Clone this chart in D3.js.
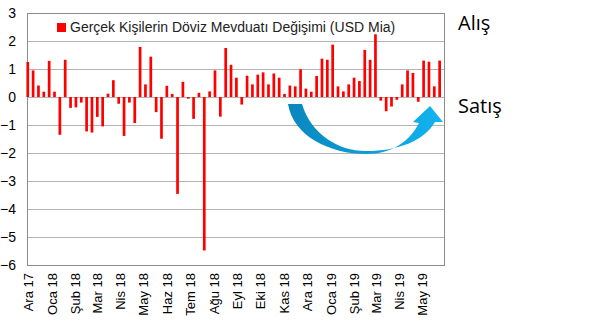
<!DOCTYPE html>
<html><head><meta charset="utf-8">
<script src="https://cdn.jsdelivr.net/npm/d3@7"></script>
<style>html,body{margin:0;padding:0;background:#fff;}svg{display:block;}</style>
</head><body>
<script>
// Weekly dates (Fridays)
const weeks = [
"2017-12-01","2017-12-08","2017-12-15","2017-12-22","2017-12-29",
"2018-01-05","2018-01-12","2018-01-19","2018-01-26",
"2018-02-02","2018-02-09","2018-02-16","2018-02-23",
"2018-03-02","2018-03-09","2018-03-16","2018-03-23","2018-03-30",
"2018-04-06","2018-04-13","2018-04-20","2018-04-27",
"2018-05-04","2018-05-11","2018-05-18","2018-05-25",
"2018-06-01","2018-06-08","2018-06-15","2018-06-22","2018-06-29",
"2018-07-06","2018-07-13","2018-07-20","2018-07-27",
"2018-08-03","2018-08-10","2018-08-17","2018-08-24","2018-08-31",
"2018-09-07","2018-09-14","2018-09-21","2018-09-28",
"2018-10-05","2018-10-12","2018-10-19","2018-10-26",
"2018-11-02","2018-11-09","2018-11-16","2018-11-23","2018-11-30",
"2018-12-07","2018-12-14","2018-12-21","2018-12-28",
"2019-01-04","2019-01-11","2019-01-18","2019-01-25",
"2019-02-01","2019-02-08","2019-02-15","2019-02-22",
"2019-03-01","2019-03-08","2019-03-15","2019-03-22","2019-03-29",
"2019-04-05","2019-04-12","2019-04-19","2019-04-26",
"2019-05-03","2019-05-10","2019-05-17","2019-05-24"
];
// Gerçek kişilerin döviz mevduatı değişimi (USD milyar)
const values = [
1.25,0.95,0.41,0.19,1.29,
0.19,-1.35,1.33,-0.39,
-0.37,-0.20,-1.23,-1.27,
-0.71,-1.05,0.12,0.60,-0.24,
-1.39,-0.20,-0.93,1.79,
0.45,1.44,-0.54,-1.49,
0.40,0.11,-3.46,0.54,-0.06,
-0.78,0.15,-5.48,0.20,
0.95,-0.70,1.75,1.15,0.69,
-0.27,0.76,0.45,0.80,
0.88,0.45,0.84,0.69,
0.11,0.41,0.38,0.99,0.30,
0.19,0.75,1.37,1.33,
1.87,0.38,0.20,0.45,
0.69,0.57,1.68,1.33,
2.24,-0.13,-0.51,-0.34,-0.10,
0.45,0.95,0.86,-0.17,
1.30,1.26,0.38,1.30
];
const yTicks = [3,2,1,0,-1,-2,-3,-4,-5,-6];
const monthNames = ["Oca","Şub","Mar","Nis","May","Haz","Tem","Ağu","Eyl","Eki","Kas","Ara"];
const legendLabel = "Gerçek Kişilerin Döviz Mevduatı Değişimi (USD Mia)";
const sideLabels = ["Alış","Satış"];

const W = 590, H = 328;
const plot = {l:27, r:445, t:13, b:265};
const parse = d3.utcParse("%Y-%m-%d");
const data = weeks.map((w,i)=>({date:parse(w), v:values[i]}));

const svg = d3.select("body").append("svg").attr("width",W).attr("height",H);

const x = d3.scaleUtc().domain([parse("2017-11-30"), parse("2019-05-31")]).range([plot.l, plot.r]);
const y = d3.scaleLinear().domain([-6,3]).range([plot.b, plot.t]);

// gridlines
svg.append("g").selectAll("line").data(yTicks).join("line")
  .attr("x1",plot.l).attr("x2",plot.r)
  .attr("y1",d=>Math.round(y(d))+0.5).attr("y2",d=>Math.round(y(d))+0.5)
  .attr("stroke","#b3b3b3").attr("stroke-width",1.2);

// border
svg.append("rect").attr("x",plot.l+0.5).attr("y",plot.t+0.5)
  .attr("width",plot.r-plot.l-1).attr("height",plot.b-plot.t)
  .attr("fill","none").attr("stroke","#8c8c8c").attr("stroke-width",1);

// y axis labels
const yAxis = d3.axisLeft(y).tickValues(yTicks).tickSize(0).tickPadding(11).tickFormat(d3.format("d"));
const gy = svg.append("g").attr("transform",`translate(${plot.l},0)`).call(yAxis);
gy.select(".domain").remove();
gy.selectAll("text").attr("font-family","'Liberation Sans', Arial, sans-serif").attr("font-size",14).attr("fill","#000");

// bars
const bw = 2.7;
svg.append("g").selectAll("rect").data(data).join("rect")
  .attr("x",d=>x(d.date)-bw/2).attr("width",bw)
  .attr("y",d=>y(Math.max(0,d.v))).attr("height",d=>Math.abs(y(d.v)-y(0)))
  .attr("fill","#ff0000");

// x axis labels (monthly)
const fmt = d => monthNames[d.getUTCMonth()] + " " + String(d.getUTCFullYear()).slice(2);
const xAxis = d3.axisBottom(x).ticks(d3.utcMonth.every(1)).tickSize(0).tickFormat(fmt);
const gx = svg.append("g").attr("transform",`translate(0,${plot.b})`).call(xAxis);
gx.select(".domain").remove();
gx.selectAll("text")
  .attr("font-family","'Liberation Sans', Arial, sans-serif").attr("font-size",13).attr("fill","#000")
  .attr("text-anchor","end").attr("transform","rotate(-90)")
  .attr("x",-8).attr("y",0).attr("dy","0.36em");

// legend
svg.append("rect").attr("x",57).attr("y",23).attr("width",9).attr("height",9).attr("fill","#ff0000");
svg.append("text").attr("x",70).attr("y",32).text(legendLabel)
  .attr("font-family","'Liberation Sans', Arial, sans-serif").attr("font-size",14).attr("fill","#222");

// side labels
svg.append("text").attr("x",458).attr("y",30).text(sideLabels[0])
  .attr("font-family","'Open Sans', sans-serif").attr("font-size",20).attr("fill","#000");
svg.append("text").attr("x",458).attr("y",113).text(sideLabels[1])
  .attr("font-family","'Open Sans', sans-serif").attr("font-size",20).attr("fill","#000");

// curved arrow
const defs = svg.append("defs");
const grad = defs.append("linearGradient").attr("id","arrowGrad").attr("x1","0%").attr("x2","100%").attr("y1","0%").attr("y2","0%");
grad.append("stop").attr("offset","0%").attr("stop-color","#0a86bd");
grad.append("stop").attr("offset","100%").attr("stop-color","#12b4f0");
svg.append("path")
  .attr("d","M288,104 C293,136 330,154 366,154 C392,154 410,141 419,123 L413,122 L430,106 L443,122 L435,122 C424,141 398,151 366,151 C338,151 311,134 302,104 Z")
  .attr("fill","url(#arrowGrad)");
</script>
</body></html>
